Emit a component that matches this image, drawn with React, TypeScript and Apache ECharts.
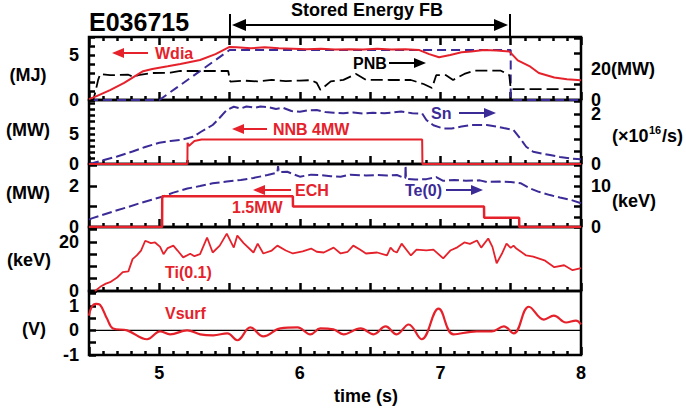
import React, { useEffect, useRef } from 'react';
import * as echarts from 'echarts';

const FONT = '"Liberation Sans", Arial, Helvetica, sans-serif';
const RED = '#e5222b';
const BLUE = '#3a2b97';
const BLACK = '#000000';

// ---------- Panel 1: stored energy (MJ, left) and PNB (MW, right)
const wdia: [number, number][] = [
  [4.5, 0.1], [4.55, 0.4], [4.65, 1.1], [4.75, 1.9], [4.885, 3.2], [4.95, 3.45], [5.06, 3.75],
  [5.15, 4.0], [5.29, 4.45], [5.4, 5.1], [5.5, 5.9], [5.55, 5.85], [5.65, 5.75], [5.75, 5.85],
  [5.85, 5.75], [5.95, 5.7], [6.05, 5.65], [6.15, 5.7], [6.25, 5.6], [6.35, 5.65], [6.45, 5.6],
  [6.55, 5.7], [6.65, 5.6], [6.75, 5.65], [6.85, 5.55], [6.92, 5.1], [6.99, 4.75], [7.07, 5.0],
  [7.15, 5.3], [7.22, 5.4], [7.31, 5.55], [7.4, 5.5], [7.49, 5.4], [7.55, 4.4], [7.64, 3.7],
  [7.7, 3.0], [7.81, 2.5], [7.9, 2.3], [8.0, 2.2],
];
const wdiaRef: [number, number][] = [
  [4.5, 0], [5.0, 0], [5.5, 5.55], [7.5, 5.55], [7.5, 0], [8.0, 0],
];
const pnb: [number, number][] = [
  [4.5, 0], [4.53, 0], [4.545, 5], [4.565, 13], [4.58, 16.8], [4.65, 16], [4.78, 16.3],
  [4.82, 14.8], [4.85, 16], [4.95, 17.4], [5.08, 17.6], [5.15, 18.7], [5.3, 18.7], [5.49, 18.7],
  [5.505, 11.8], [5.6, 12.5], [5.7, 12], [5.8, 13], [5.9, 12.2], [6.0, 12.5], [6.08, 12.8],
  [6.12, 11], [6.146, 6.5], [6.22, 12], [6.31, 13], [6.4, 16.8], [6.47, 13], [6.57, 13],
  [6.64, 12.9], [6.74, 12.9], [6.79, 12.9], [6.88, 10.3], [6.94, 7.7], [6.97, 16], [7.04, 16],
  [7.09, 12.9], [7.17, 16.8], [7.24, 18.9], [7.43, 18.9], [7.49, 16], [7.5, 7], [8.0, 7],
];

// ---------- Panel 2: NNB (MW, left) and Sn (x10^16/s, right)
const nnb: [number, number][] = [
  [4.5, 0], [5.2, 0], [5.201, 3.5], [5.21, 3.0], [5.25, 3.8], [5.3, 4.05], [6.87, 4.05],
  [6.872, 0], [8.0, 0],
];
const sn: [number, number][] = [
  [4.5, 0], [4.53, 0.04], [4.6, 0.15], [4.7, 0.3], [4.81, 0.5], [4.9, 0.68], [5.0, 0.85],
  [5.08, 0.92], [5.15, 0.96], [5.24, 1.09], [5.3, 1.3], [5.38, 1.56], [5.43, 1.85], [5.48, 2.16],
  [5.53, 2.29], [5.58, 2.22], [5.62, 2.3], [5.68, 2.25], [5.72, 2.3], [5.77, 2.28], [5.83, 2.2],
  [5.88, 2.25], [5.94, 2.12], [6.0, 2.09], [6.06, 2.15], [6.12, 2.16], [6.18, 2.08], [6.24, 2.05],
  [6.31, 2.03], [6.38, 2.06], [6.45, 2.02], [6.52, 2.05], [6.6, 2.03], [6.66, 2.06], [6.72, 2.1],
  [6.8, 2.03], [6.87, 2.02], [6.9, 1.76], [6.95, 1.55], [7.02, 1.42], [7.08, 1.42], [7.15, 1.5],
  [7.22, 1.56], [7.33, 1.56], [7.4, 1.5], [7.45, 1.44], [7.52, 1.36], [7.57, 1.0], [7.61, 0.69],
  [7.66, 0.49], [7.72, 0.42], [7.78, 0.36], [7.85, 0.28], [7.93, 0.22], [8.0, 0.19],
];

// ---------- Panel 3: ECH (MW, left) and Te(0) (keV, right)
const ech: [number, number][] = [
  [4.5, 0], [5.02, 0], [5.021, 1.5], [5.95, 1.5], [5.951, 1.0], [7.31, 1.0], [7.311, 0.45],
  [7.56, 0.45], [7.561, 0], [8.0, 0],
];
const te0: [number, number][] = [
  [4.5, 1.8], [4.52, 2.1], [4.6, 3.0], [4.7, 4.1], [4.78, 4.9], [4.86, 5.8], [4.94, 6.6],
  [5.02, 7.4], [5.1, 8.4], [5.2, 9.4], [5.29, 10.0], [5.38, 10.7], [5.48, 11.1], [5.58, 11.5],
  [5.67, 12.0], [5.77, 12.7], [5.84, 13.3], [5.845, 14.9], [5.85, 13.4], [5.91, 13.5],
  [6.0, 12.3], [6.08, 12.8], [6.15, 12.7], [6.22, 12.4], [6.29, 12.3], [6.36, 12.8], [6.47, 12.6],
  [6.55, 12.7], [6.62, 12.6], [6.69, 12.7], [6.75, 11.9], [6.752, 15.0], [6.755, 11.8],
  [6.82, 11.6], [6.9, 11.7], [6.97, 12.2], [7.02, 11.3], [7.1, 11.5], [7.18, 11.3], [7.28, 11.4],
  [7.33, 11.0], [7.42, 11.1], [7.5, 11.0], [7.57, 10.7], [7.64, 9.4], [7.7, 8.6], [7.78, 7.8],
  [7.85, 7.2], [7.93, 6.6], [8.0, 5.8],
];

// ---------- Panel 4: Ti(0.1) (keV)
const ti01: [number, number][] = [
  [4.543, 0], [4.58, 1.7], [4.62, 3.0], [4.65, 3.6], [4.7, 5.5], [4.74, 7.7], [4.78, 8.0],
  [4.81, 13], [4.84, 14.5], [4.87, 16.5], [4.9, 20.5], [4.94, 19.5], [4.97, 19.8], [5.006, 18],
  [5.03, 15], [5.06, 17.5], [5.1, 18.5], [5.13, 16.5], [5.17, 13.7], [5.22, 15.2], [5.25, 14.2],
  [5.29, 15], [5.34, 21.8], [5.38, 15.7], [5.43, 18.5], [5.48, 23.4], [5.53, 17.7], [5.555, 22.6],
  [5.6, 19.5], [5.67, 15.7], [5.7, 19.3], [5.74, 15.3], [5.8, 16.5], [5.84, 18.5], [5.9, 16.5],
  [5.95, 15.3], [6.02, 16.2], [6.08, 17.3], [6.12, 16.0], [6.17, 15.7], [6.24, 17.7], [6.29, 15.3],
  [6.34, 16.0], [6.38, 18.5], [6.43, 16.8], [6.47, 15.3], [6.55, 15.7], [6.62, 14.5], [6.645, 17.7],
  [6.67, 16.2], [6.69, 15.7], [6.724, 19.3], [6.79, 14.5], [6.83, 16.9], [6.9, 16.6], [6.95, 16.9],
  [7.02, 13.3], [7.07, 16.5], [7.12, 17.8], [7.17, 19.8], [7.21, 19.2], [7.26, 20.6], [7.29, 17.7],
  [7.34, 21.4], [7.37, 18.0], [7.4, 11.3], [7.44, 15.5], [7.47, 19.3], [7.5, 17.6], [7.52, 18.5],
  [7.54, 17.3], [7.61, 14.5], [7.66, 14.0], [7.74, 12.5], [7.81, 9.7], [7.88, 10.5], [7.94, 8.5],
  [8.0, 9.3],
];

// ---------- Panel 5: Vsurf (V)
const vsurf: [number, number][] = [
  [4.5, 0.6], [4.52, 0.96], [4.55, 1.08], [4.578, 1.04], [4.628, 0.48], [4.671, 0.08], [4.771, 0],
  [4.913, -0.36], [5.006, -0.04], [5.077, -0.16], [5.198, 0], [5.291, -0.16], [5.384, -0.2],
  [5.484, -0.12], [5.555, -0.4], [5.648, 0.12], [5.74, -0.24], [5.861, 0.08], [5.983, 0.12],
  [6.075, -0.16], [6.146, 0.08], [6.239, 0.04], [6.31, -0.16], [6.432, 0.08], [6.524, -0.16],
  [6.61, 0.16], [6.688, -0.16], [6.774, 0.24], [6.866, -0.36], [6.987, 0.88], [7.094, -0.16],
  [7.258, -0.04], [7.365, -0.04], [7.451, 0.16], [7.522, -0.12], [7.629, 0.96], [7.736, 0.44],
  [7.807, 0.6], [7.893, 0.32], [7.964, 0.4], [8.0, 0.24],
];
const zeroLine: [number, number][] = [[4.5, 0], [8.0, 0]];

// ---------- Tick labels
const xTickLabels = [5, 6, 7, 8];
const X_MIN = 4.5;
const X_MAX = 8;

const p1LeftLabels: [number, string][] = [[0, '0'], [5, '5']];
const p1RightLabels: [number, string][] = [[0, '0'], [20, '20(MW)']];
const p2LeftLabels: [number, string][] = [[0, '0'], [5, '5']];
const p2RightLabels: [number, string][] = [[0, '0'], [2, '2']];
const p3LeftLabels: [number, string][] = [[0, '0'], [2, '2']];
const p3RightLabels: [number, string][] = [[0, '0'], [10, '10']];
const p4LeftLabels: [number, string][] = [[0, '0'], [20, '20']];
const p5LeftLabels: [number, string][] = [[-1, '-1'], [0, '0'], [1, '1']];

const PANEL_TOP = [37, 100, 164, 227, 291];
const PANEL_H = [63, 64, 63, 64, 64];

const near = (v: number, list: number[]) => list.some((k) => Math.abs(v - k) < 1e-6);

function yAxisDef(
  gridIndex: number,
  position: 'left' | 'right',
  min: number,
  max: number,
  interval: number,
  tickLen: number,
  labels: [number, string][],
) {
  return {
    type: 'value',
    gridIndex,
    position,
    min,
    max,
    interval,
    axisLine: { show: true, lineStyle: { color: BLACK } },
    axisTick: { show: true, inside: true, length: tickLen, lineStyle: { color: BLACK, width: 2.5 } },
    splitLine: { show: false },
    axisLabel: {
      show: true,
      margin: 10,
      color: BLACK,
      fontFamily: FONT,
      fontWeight: 'bold',
      fontSize: 18,
      formatter: (v: number) => {
        const f = labels.find(([q]) => Math.abs(q - v) < 1e-6);
        return f ? f[1] : '';
      },
    },
  };
}

function xAxisDef(gridIndex: number, position: 'top' | 'bottom', withLabels: boolean) {
  return {
    type: 'value',
    gridIndex,
    position,
    min: X_MIN,
    max: X_MAX,
    interval: 0.5,
    axisLine: { show: true, onZero: false, lineStyle: { color: BLACK } },
    axisTick: { show: true, inside: true, length: 8, lineStyle: { color: BLACK, width: 2.5 } },
    minorTick: { show: true, splitNumber: 5, length: 4, lineStyle: { color: BLACK, width: 2.5 } },
    splitLine: { show: false },
    axisLabel: withLabels
      ? {
          show: true,
          margin: 9,
          color: BLACK,
          fontFamily: FONT,
          fontWeight: 'bold',
          fontSize: 18,
          formatter: (v: number) => (near(v, xTickLabels) ? String(Math.round(v)) : ''),
        }
      : { show: false },
  };
}

function txt(text: string, x: number, y: number, color: string, size: number, align = 'left') {
  return {
    type: 'text',
    x,
    y,
    style: {
      text,
      fill: color,
      font: `bold ${size}px ${FONT}`,
      align,
      verticalAlign: 'middle',
    },
  };
}

function arrow(x1: number, x2: number, y: number, color: string, head = 12, half = 5, w = 2) {
  const dir = Math.sign(x2 - x1);
  return [
    {
      type: 'line',
      shape: { x1, y1: y, x2: x2 - dir * head * 0.8, y2: y },
      style: { stroke: color, lineWidth: w },
    },
    {
      type: 'polygon',
      shape: { points: [[x2, y], [x2 - dir * head, y - half], [x2 - dir * head, y + half]] },
      style: { fill: color },
    },
  ];
}

function lineSeries(
  name: string,
  data: [number, number][],
  xi: number,
  yi: number,
  color: string,
  dashed: number[] | null,
  width = 2,
  extra: Record<string, unknown> = {},
) {
  return {
    type: 'line',
    name,
    data,
    xAxisIndex: xi,
    yAxisIndex: yi,
    showSymbol: false,
    symbol: 'none',
    lineStyle: { color, width, type: dashed ? dashed : 'solid' },
    ...extra,
  };
}

export default function App() {
  const ref = useRef<HTMLDivElement>(null);

  useEffect(() => {
    document.body.style.margin = '0';
    if (!ref.current) return;
    const chart = echarts.init(ref.current, undefined, { renderer: 'svg' });

    const grid = PANEL_TOP.map((t, i) => ({
      left: 89,
      right: 105,
      top: t,
      height: PANEL_H[i],
      show: true,
      borderColor: BLACK,
      borderWidth: 2.5,
    }));

    const xAxis = [
      xAxisDef(0, 'bottom', false),
      xAxisDef(1, 'bottom', false),
      xAxisDef(2, 'bottom', false),
      xAxisDef(3, 'bottom', false),
      xAxisDef(4, 'bottom', true),
      xAxisDef(0, 'top', false),
    ];

    const yAxis = [
      yAxisDef(0, 'left', 0, 7, 1, 6, p1LeftLabels), // 0
      yAxisDef(0, 'right', 0, 40.6, 10, 7, p1RightLabels), // 1
      yAxisDef(1, 'left', 0, 10.6, 1, 6, p2LeftLabels), // 2
      yAxisDef(1, 'right', 0, 2.56, 0.5, 7, p2RightLabels), // 3
      yAxisDef(2, 'left', 0, 3.07, 1, 8, p3LeftLabels), // 4
      yAxisDef(2, 'right', 0, 15.4, 2.5, 7, p3RightLabels), // 5
      yAxisDef(3, 'left', 0, 26.1, 5, 8, p4LeftLabels), // 6
      yAxisDef(4, 'left', -1, 1.6, 0.5, 7, p5LeftLabels), // 7
    ];

    const series = [
      lineSeries('Wdia ref', wdiaRef, 0, 0, BLUE, [9, 5], 2),
      lineSeries('PNB', pnb, 0, 1, BLACK, [12, 5], 1.8),
      lineSeries('Wdia', wdia, 0, 0, RED, null, 2),
      lineSeries('Sn', sn, 1, 3, BLUE, [10, 4], 2),
      lineSeries('NNB', nnb, 1, 2, RED, null, 2),
      lineSeries('Te(0)', te0, 2, 5, BLUE, [10, 4], 2),
      lineSeries('ECH', ech, 2, 4, RED, null, 2.5),
      lineSeries('Ti(0.1)', ti01, 3, 6, RED, null, 1.8),
      lineSeries('zero', zeroLine, 4, 7, BLACK, null, 1.2),
      lineSeries('Vsurf', vsurf, 4, 7, RED, null, 2.2, { smooth: 0.4 }),
    ];

    const graphic: any[] = [
      txt('E036715', 89, 22, BLACK, 25),
      txt('Stored Energy FB', 367, 10, BLACK, 18, 'center'),
      ...arrow(370, 232, 25, BLACK, 14, 6, 2),
      ...arrow(370, 508, 25, BLACK, 14, 6, 2),
      { type: 'line', shape: { x1: 230, y1: 14, x2: 230, y2: 37 }, style: { stroke: BLACK, lineWidth: 2 } },
      { type: 'line', shape: { x1: 510, y1: 14, x2: 510, y2: 37 }, style: { stroke: BLACK, lineWidth: 2 } },
      txt('(MJ)', 28, 75, BLACK, 18, 'center'),
      txt('(MW)', 28, 130, BLACK, 18, 'center'),
      txt('(MW)', 28, 193, BLACK, 18, 'center'),
      txt('(keV)', 29, 260, BLACK, 18, 'center'),
      txt('(V)', 34, 329, BLACK, 18, 'center'),
      txt('(×10', 612, 136, BLACK, 18),
      txt('16', 649, 130, BLACK, 11),
      txt('/s)', 662, 136, BLACK, 18),
      txt('(keV)', 612, 201, BLACK, 18),
      txt('time (s)', 366, 396, BLACK, 18, 'center'),
      txt('Wdia', 155, 53, RED, 16),
      ...arrow(148, 112, 53, RED, 12, 5, 2),
      txt('PNB', 353, 63, BLACK, 16),
      ...arrow(389, 426, 63, BLACK, 12, 5, 2),
      txt('NNB 4MW', 273, 129, RED, 16),
      ...arrow(267, 232, 129, RED, 12, 5, 2),
      txt('Sn', 431, 113, BLUE, 16),
      ...arrow(459, 496, 113, BLUE, 12, 5, 2),
      txt('ECH', 295, 190, RED, 16),
      ...arrow(291, 253, 190, RED, 12, 5, 2),
      txt('1.5MW', 232, 207, RED, 16),
      txt('Te(0)', 405, 190, BLUE, 16),
      ...arrow(446, 483, 190, BLUE, 12, 5, 2),
      txt('Ti(0.1)', 165, 272, RED, 16),
      txt('Vsurf', 165, 313, RED, 16),
    ];

    chart.setOption({
      animation: false,
      grid,
      xAxis,
      yAxis,
      series,
      graphic,
    });

    return () => {
      chart.dispose();
    };
  }, []);

  return <div ref={ref} style={{ width: 686, height: 415 }} />;
}
